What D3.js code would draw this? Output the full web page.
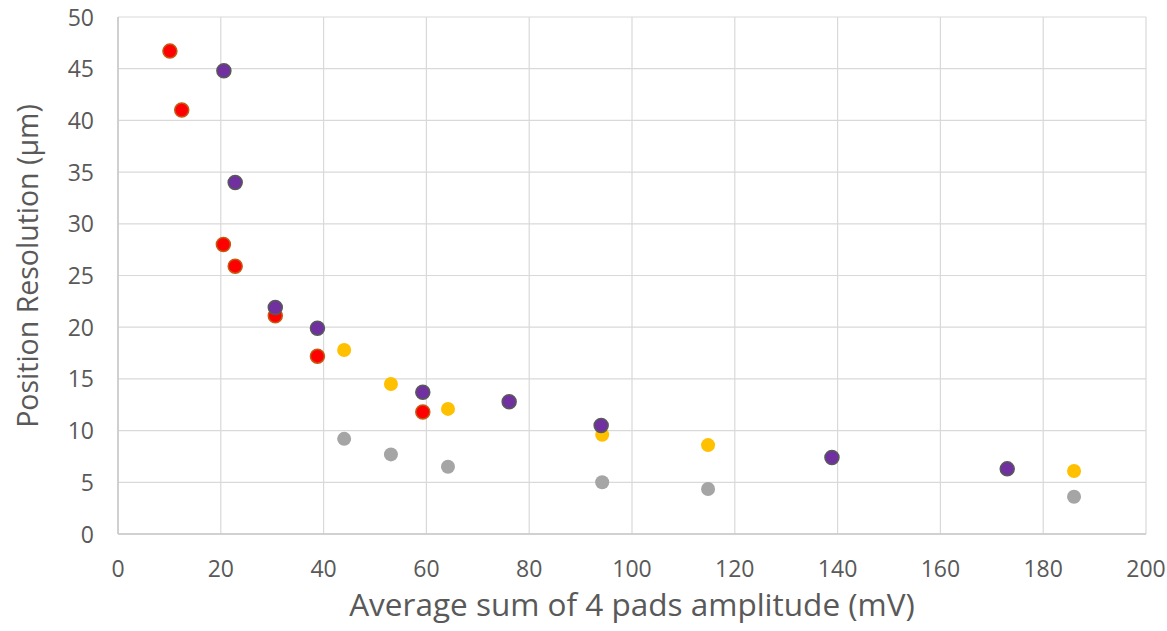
<!DOCTYPE html>
<html>
<head>
<meta charset="utf-8">
<script src="https://cdn.jsdelivr.net/npm/d3@7.9.0/dist/d3.min.js"></script>
<style>
  body { margin: 0; background: #fff; }
  svg text { font-family: "Open Sans", "Noto Sans", sans-serif; fill: #595959; }
</style>
</head>
<body>
<div id="chart"></div>
<script>
// series: [amplitude mV, resolution um]
const redSeries = [[10.1, 46.7], [12.4, 41.0], [20.5, 28.0], [22.8, 25.9], [30.6, 21.1], [38.8, 17.2], [59.3, 11.8]];
const purpleSeries = [[20.6, 44.8], [22.8, 34.0], [30.6, 21.9], [38.8, 19.9], [59.3, 13.7], [76.1, 12.8], [94.0, 10.5], [138.9, 7.4], [173.0, 6.3]];
const yellowSeries = [[44.0, 17.8], [53.1, 14.5], [64.2, 12.1], [94.2, 9.6], [114.8, 8.6], [186.0, 6.1]];
const graySeries = [[44.0, 9.2], [53.1, 7.7], [64.2, 6.5], [94.2, 5.0], [114.8, 4.35], [186.0, 3.6]];
const xTicks = d3.range(0, 201, 20);
const yTicks = d3.range(0, 51, 5);

const width = 1167, height = 631;
const margin = { top: 17, right: 21, bottom: 97, left: 118 };

const svg = d3.select('#chart').append('svg')
  .attr('width', width).attr('height', height);

const x = d3.scaleLinear().domain([0, 200]).range([margin.left, width - margin.right]);
const y = d3.scaleLinear().domain([0, 50]).range([height - margin.bottom, margin.top]);

// gridlines
svg.append('g').selectAll('line.h').data(yTicks).join('line')
  .attr('x1', x(0)).attr('x2', x(200))
  .attr('y1', d => y(d)).attr('y2', d => y(d))
  .attr('stroke', '#d9d9d9').attr('stroke-width', 1.2);
svg.append('g').selectAll('line.v').data(xTicks).join('line')
  .attr('y1', y(0)).attr('y2', y(50))
  .attr('x1', d => x(d)).attr('x2', d => x(d))
  .attr('stroke', '#d9d9d9').attr('stroke-width', 1.2);

// axis lines
svg.append('line').attr('x1', x(0)).attr('x2', x(200)).attr('y1', y(0)).attr('y2', y(0))
  .attr('stroke', '#c8c8c8').attr('stroke-width', 1.5);
svg.append('line').attr('x1', x(0)).attr('x2', x(0)).attr('y1', y(0)).attr('y2', y(50))
  .attr('stroke', '#c8c8c8').attr('stroke-width', 1.5);

// tick labels
svg.append('g').selectAll('text').data(xTicks).join('text')
  .attr('x', d => x(d)).attr('y', y(0) + 43)
  .attr('text-anchor', 'middle').style('font-size', '23px')
  .text(d => d);
svg.append('g').selectAll('text').data(yTicks).join('text')
  .attr('x', x(0) - 24).attr('y', d => y(d) + 8.5)
  .attr('text-anchor', 'end').style('font-size', '23px')
  .text(d => d);

// axis titles
svg.append('text')
  .attr('x', (x(0) + x(200)) / 2).attr('y', 616)
  .attr('text-anchor', 'middle').style('font-size', '31.5px')
  .text('Average sum of 4 pads amplitude (mV)');
svg.append('text')
  .attr('transform', `translate(38, 266) rotate(-90)`)
  .attr('text-anchor', 'middle').style('font-size', '28.5px')
  .text('Position Resolution (µm)');

function drawSeries(data, fill, stroke) {
  svg.append('g').selectAll('circle').data(data).join('circle')
    .attr('cx', d => x(d[0])).attr('cy', d => y(d[1]))
    .attr('r', 7)
    .attr('fill', fill)
    .attr('stroke', stroke || 'none')
    .attr('stroke-width', 1.5);
}

drawSeries(graySeries, '#a5a5a5');
drawSeries(yellowSeries, '#ffc000');
drawSeries(redSeries, '#ff0000', '#c55a11');
drawSeries(purpleSeries, '#7030a0', '#595959');
</script>
</body>
</html>
